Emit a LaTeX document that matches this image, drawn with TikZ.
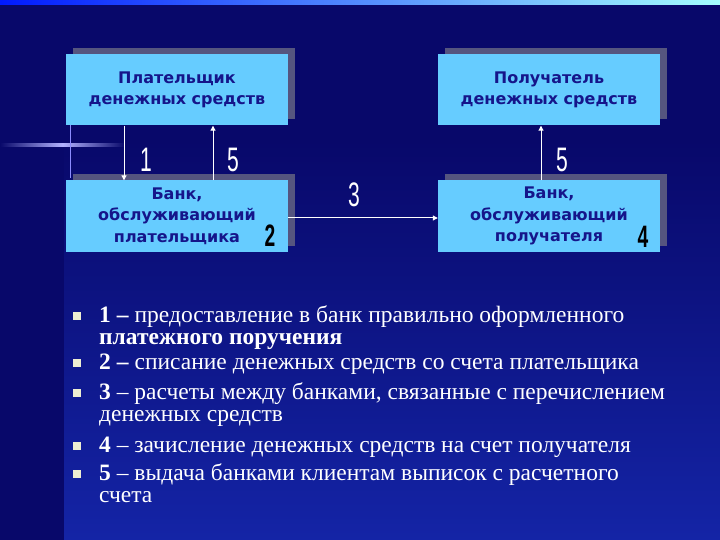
\documentclass[tikz,border=0pt]{standalone}
\usepackage{fontspec}
\setmainfont{Liberation Serif}
\newfontfamily\boxfont{DejaVu Sans}
\newfontfamily\numfont[FakeStretch=0.62]{Liberation Sans}
\usetikzlibrary{arrows.meta,shadows}

\definecolor{bgnavy}{HTML}{08086A}
\definecolor{bglight}{HTML}{1424A6}
\definecolor{boxblue}{HTML}{66CCFF}
\definecolor{boxtext}{HTML}{15158A}
\definecolor{shadowgray}{HTML}{55557F}
\definecolor{bulletcol}{HTML}{EEEED2}

\tikzset{
  party/.style={fill=boxblue, minimum width=222pt, minimum height=71pt,
    align=center, text=boxtext, inner sep=0pt,
    font=\boxfont\bfseries\fontsize{16}{21.5}\selectfont,
    general shadow={shadow xshift=7pt, shadow yshift=6pt, fill=shadowgray}},
  flow/.style={draw=white, line width=1pt, -{Triangle[width=5pt,length=5pt]}},
  steplbl/.style={text=white, inner sep=0pt, font=\numfont\fontsize{34}{34}\selectfont},
  banklbl/.style={text=black, inner sep=0pt, font=\numfont\bfseries\fontsize{31}{31}\selectfont},
  bulletsq/.style={fill=bulletcol, minimum size=8pt, inner sep=0pt},
  itemtext/.style={anchor=base west, align=left, inner sep=0pt, text=white,
    font=\fontsize{23.5}{22}\selectfont}
}

\begin{document}
\begin{tikzpicture}[x=1pt,y=-1pt]
  \useasboundingbox (0,0) rectangle (720,540);

  % background
  \fill[bgnavy] (0,0) rectangle (720,540);
  \shade[top color=bgnavy, bottom color=bglight] (64,140) rectangle (720,540);
  \shade[left color=blue!90!cyan, right color=cyan!35] (0,0) rectangle (720,5);
  \shade[left color=bgnavy, right color=bgnavy, middle color=blue!30!white] (0,144) rectangle (125,146.5);
  \draw[blue!45!white, line width=0.8pt] (70,120) -- (70,178);

  % boxes
  \node[party] (payer) at (177,90) {Плательщик\\денежных средств};
  \node[party] (paybank) at (177,216) {Банк,\\обслуживающий\\плательщика};
  \node[party] (payee) at (549,90) {Получатель\\денежных средств};
  \node[party] (payeebank) at (549,216) {Банк,\\обслуживающий\\получателя};

  % flows
  \draw[flow] ([xshift=-53pt]payer.south) -- ([xshift=-53pt]paybank.north);
  \draw[flow] ([xshift=36pt]paybank.north) -- ([xshift=36pt]payer.south);
  \draw[flow] ([xshift=-8pt]payeebank.north) -- ([xshift=-8pt]payee.south);
  \draw[flow] ([yshift=-2pt]paybank.east) -- ([yshift=-2pt]payeebank.west);

  \node[steplbl] (lbl1) at (146,160) {1};
  \node[steplbl] (lbl5a) at (233,160) {5};
  \node[steplbl] (lbl3) at (354,195) {3};
  \node[steplbl] (lbl5b) at (562,160) {5};
  \node[banklbl] (lbl2) at (270,236) {2};
  \node[banklbl] (lbl4) at (643,237) {4};

  % list (base = last line)
  \node[bulletsq] (b1) at (77,316) {};
  \node[bulletsq] (b2) at (77,363) {};
  \node[bulletsq] (b3) at (77,393) {};
  \node[bulletsq] (b4) at (77,446) {};
  \node[bulletsq] (b5) at (77,474) {};
  \node[itemtext] (t1) at (99,344) {\textbf{1 –} предоставление в банк правильно оформленного\\\textbf{платежного поручения}};
  \node[itemtext] (t2) at (99,369) {\textbf{2 –} списание денежных средств со счета плательщика};
  \node[itemtext] (t3) at (99,421) {\textbf{3} – расчеты между банками, связанные с перечислением\\денежных средств};
  \node[itemtext] (t4) at (99,452) {\textbf{4} – зачисление денежных средств на счет получателя};
  \node[itemtext] (t5) at (99,502) {\textbf{5} – выдача банками клиентам выписок с расчетного\\счета};
\end{tikzpicture}
\end{document}
